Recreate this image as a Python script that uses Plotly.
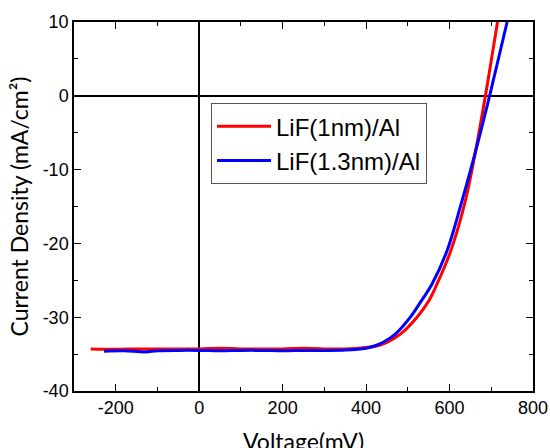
import plotly.graph_objects as go

# LiF(1nm)/Al
v_red = [-260, -200, -150, -100, -50, 0, 50, 100, 150, 200, 250, 300, 350, 400,
         425, 450, 482, 522, 550, 570, 603, 638, 662, 686, 700, 715]
j_red = [-34.3, -34.35, -34.3, -34.3, -34.3, -34.3, -34.2, -34.3, -34.3, -34.3,
         -34.2, -34.3, -34.3, -34.1, -33.9, -33.4, -32.3, -30.0, -27.8, -25.5,
         -21.0, -14.2, -7.6, 0.0, 4.8, 10.0]

# LiF(1.3nm)/Al
v_blue = [-228, -180, -130, -100, -50, 0, 50, 100, 150, 200, 250, 300, 350, 400,
          420, 441, 470, 506, 530, 558, 594, 630, 662, 696, 720, 738]
j_blue = [-34.6, -34.55, -34.7, -34.55, -34.5, -34.5, -34.55, -34.5, -34.5, -34.55,
          -34.5, -34.5, -34.45, -34.2, -33.9, -33.4, -32.3, -30.0, -28.0, -25.5,
          -21.0, -14.2, -7.6, 0.0, 5.7, 10.0]

names = ["LiF(1nm)/Al", "LiF(1.3nm)/Al"]
x_title = "Voltage(mV)"
y_title = "Current Density (mA/cm²)"
x_ticks = [-200, 0, 200, 400, 600, 800]
x_ticktext = ["-200", "0", "200", "400", "600", "800"]
y_ticks = [-40, -30, -20, -10, 0, 10]
y_ticktext = ["-40", "-30", "-20", "-10", "0", "10"]

fig = go.Figure()
fig.add_trace(go.Scatter(x=v_red, y=j_red, mode="lines", name=names[0],
                         line=dict(color="#ff0000", width=3, shape="spline")))
fig.add_trace(go.Scatter(x=v_blue, y=j_blue, mode="lines", name=names[1],
                         line=dict(color="#0000ff", width=3, shape="spline")))

axis_common = dict(
    showline=True, linecolor="black", linewidth=1.5, mirror="ticks",
    ticks="inside", ticklen=7, tickwidth=1, tickcolor="black",
    showgrid=False, zeroline=True, zerolinecolor="black", zerolinewidth=1.5,
    automargin=False,
    tickfont=dict(family="Liberation Sans, Arial", size=18, color="black"),
)

fig.update_xaxes(range=[-300, 800], tickvals=x_ticks, ticktext=x_ticktext,
                 minor=dict(dtick=100, tick0=0, ticks="inside", ticklen=4, tickcolor="black"),
                 **axis_common)
fig.update_yaxes(range=[-40, 10], tickvals=y_ticks, ticktext=y_ticktext,
                 minor=dict(dtick=5, tick0=0, ticks="inside", ticklen=4, tickcolor="black"),
                 **axis_common)

fig.update_layout(
    width=550, height=448,
    margin=dict(l=74, r=17, t=22, b=57, autoexpand=False),
    plot_bgcolor="white", paper_bgcolor="white",
    legend=dict(x=0.2985, y=0.78, xanchor="left", yanchor="top",
                bordercolor="#555555", borderwidth=1, bgcolor="white",
                itemwidth=54,
                font=dict(family="Liberation Sans, Arial", size=24, color="black"),
                tracegroupgap=0),
    annotations=[
        dict(text=x_title, xref="paper", yref="paper", x=0.5, y=0, yshift=-50,
             xanchor="center", yanchor="middle", showarrow=False,
             font=dict(family="Lato", size=23, color="black")),
        dict(text=y_title, xref="paper", yref="paper", x=0, y=0.5, xshift=-56,
             textangle=-90,
             xanchor="center", yanchor="middle", showarrow=False,
             font=dict(family="Lato", size=23, color="black")),
    ],
)

fig.write_html("out.html", config={"displayModeBar": False},
               post_script="document.body.style.margin='0';document.body.style.overflow='hidden';")
